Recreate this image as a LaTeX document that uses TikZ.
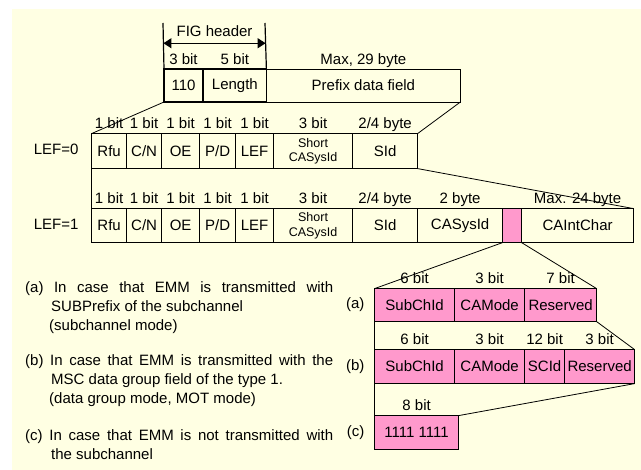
\documentclass[tikz,border=0pt]{standalone}
\usepackage{fontspec}
\setmainfont{Liberation Sans}
\usepackage{tikz}
\usepackage{xcolor}
\usetikzlibrary{matrix,
	calc,
	positioning,
	arrows.meta}
\definecolor{bgyel}{RGB}{255,255,227}
\definecolor{emmpink}{RGB}{255,153,204}
\tikzstyle{rw}=[inner sep=0pt, anchor=north west, column sep=-0.8pt,
		ampersand replacement=\&]
\tikzstyle{fld}=[draw, line width=0.8pt, inner sep=0pt, outer sep=0pt, anchor=center,
		align=center, font=\fontsize{15}{16}\selectfont]
\tikzstyle{hdf}=[fld, line width=1.6pt]
\tikzstyle{pk}=[fld, fill=emmpink]
\tikzstyle{sml}=[font=\fontsize{12.5}{14.5}\selectfont]
\tikzstyle{bits}=[inner sep=0pt, text height=10.5pt, text depth=3pt,
		font=\fontsize{15}{16}\selectfont]
\tikzstyle{note}=[inner sep=0pt, anchor=north west, align=left,
		font=\fontsize{15}{19}\selectfont]
\tikzstyle{lnk}=[line width=0.8pt]
\tikzstyle{tip}=[line width=1.2pt]

\begin{document}
\begin{tikzpicture}[x=1pt, y=-1pt]
                \useasboundingbox (0,0) rectangle (641,470);
                \fill[bgyel] (12,9) rectangle (641,470);
                % FIG header + prefix
                \matrix (hdr) [rw, column sep=-1.2pt, nodes={minimum height=33pt}] at (163,68) {
                    \node[hdf, minimum width=39pt] (c110) {110}; \& \node[hdf, minimum width=63pt] (cLen) {Length}; \& \node[fld, minimum width=194pt] (cPre) {Prefix data field}; \\
                };
                \coordinate (figL) at (163,23);
                \coordinate (figR) at (265,23);
                \draw[tip] (figL) -- (c110.north west);
                \draw[tip] (figR) -- (cLen.north east);
                \draw[tip, {Triangle[length=8pt,width=10pt]}-{Triangle[length=8pt,width=10pt]}] ($(figL)!0.44!(c110.north west)$) -- node[bits, above=3pt] (figTxt) {FIG header} ($(figR)!0.44!(cLen.north east)$);
                \node[bits, above=1pt of c110] (b110) {3 bit};
                \node[bits, above=1pt of cLen] (bLen) {5 bit};
                \node[bits, above=1pt of cPre] (bPre) {Max, 29 byte};
                % LEF=0
                \matrix (row0) [rw, nodes={minimum height=35pt}] at (91,133) {
                    \node[fld, minimum width=35pt] (rfu0) {Rfu}; \& \node[fld, minimum width=35pt] (cn0) {C/N}; \& \node[fld, minimum width=38pt] (oe0) {OE}; \& \node[fld, minimum width=36pt] (pd0) {P/D}; \& \node[fld, minimum width=38pt] (lef0) {LEF}; \& \node[fld, sml, minimum width=79pt] (sca0) {Short\\CASysId}; \& \node[fld, minimum width=65pt] (sid0) {SId}; \\
                };
                \node[bits, left=13pt of rfu0] (nm0) {LEF=0};
                \node[bits, above=1.5pt of rfu0] (brfu0) {1 bit};
                \node[bits, above=1.5pt of cn0] (bcn0) {1 bit};
                \node[bits, above=1.5pt of oe0] (boe0) {1 bit};
                \node[bits, above=1.5pt of pd0] (bpd0) {1 bit};
                \node[bits, above=1.5pt of lef0] (blef0) {1 bit};
                \node[bits, above=1.5pt of sca0] (bsca0) {3 bit};
                \node[bits, above=1.5pt of sid0] (bsid0) {2/4 byte};
                % LEF=1
                \matrix (row1) [rw, nodes={minimum height=34pt}] at (91,208) {
                    \node[fld, minimum width=35pt] (rfu1) {Rfu}; \& \node[fld, minimum width=35pt] (cn1) {C/N}; \& \node[fld, minimum width=38pt] (oe1) {OE}; \& \node[fld, minimum width=36pt] (pd1) {P/D}; \& \node[fld, minimum width=38pt] (lef1) {LEF}; \& \node[fld, sml, minimum width=79pt] (sca1) {Short\\CASysId}; \& \node[fld, minimum width=65pt] (sid1) {SId}; \& \node[fld, minimum width=85pt] (cas1) {CASysId}; \& \node[pk, minimum width=19pt] (pk1) {}; \& \node[fld, minimum width=112pt] (cai1) {CAIntChar}; \\
                };
                \node[bits, left=13pt of rfu1] (nm1) {LEF=1};
                \node[bits, above=1.5pt of rfu1] (brfu1) {1 bit};
                \node[bits, above=1.5pt of cn1] (bcn1) {1 bit};
                \node[bits, above=1.5pt of oe1] (boe1) {1 bit};
                \node[bits, above=1.5pt of pd1] (bpd1) {1 bit};
                \node[bits, above=1.5pt of lef1] (blef1) {1 bit};
                \node[bits, above=1.5pt of sca1] (bsca1) {3 bit};
                \node[bits, above=1.5pt of sid1] (bsid1) {2/4 byte};
                \node[bits, above=1.5pt of cas1] (bcas1) {2 byte};
                \node[bits, above=1.5pt of cai1] (bcai1) {Max. 24 byte};
                % (a) subchannel mode
                \matrix (rowa) [rw, nodes={minimum height=33pt}] at (374,288) {
                    \node[pk, minimum width=80pt] (suba) {SubChId}; \& \node[pk, minimum width=70pt] (cama) {CAMode}; \& \node[pk, minimum width=72pt] (resa) {Reserved}; \\
                };
                \node[bits, left=10pt of suba] (nma) {(a)};
                \node[bits, above=1.5pt of suba] (bsuba) {6 bit};
                \node[bits, above=1.5pt of cama] (bcama) {3 bit};
                \node[bits, above=1.5pt of resa] (bresa) {7 bit};
                % (b) data group mode
                \matrix (rowb) [rw, nodes={minimum height=34pt}] at (374,349) {
                    \node[pk, minimum width=80pt] (subb) {SubChId}; \& \node[pk, minimum width=70pt] (camb) {CAMode}; \& \node[pk, minimum width=40pt] (scidb) {SCId}; \& \node[pk, minimum width=70pt] (resb) {Reserved}; \\
                };
                \node[bits, left=10pt of subb] (nmb) {(b)};
                \node[bits, above=1.5pt of subb] (bsubb) {6 bit};
                \node[bits, above=1.5pt of camb] (bcamb) {3 bit};
                \node[bits, above=1.5pt of scidb] (bscidb) {12 bit};
                \node[bits, above=1.5pt of resb] (bresb) {3 bit};
                % (c) not with subchannel
                \matrix (rowc) [rw, nodes={minimum height=34pt}] at (374,415) {
                    \node[pk, minimum width=84pt] (ffc) {1111 1111}; \\
                };
                \node[bits, left=10pt of ffc] (nmc) {(c)};
                \node[bits, above=1.5pt of ffc] (bffc) {8 bit};
                % expansion lines
                \draw[lnk] (c110.south west) -- (rfu0.north west);
                \draw[lnk] (cPre.south east) -- (sid0.north east);
                \draw[lnk] (rfu0.south west) -- (rfu1.north west);
                \draw[lnk] (sid0.south east) -- (cai1.north east);
                \draw[lnk] (pk1.south west) -- (suba.north west);
                \draw[lnk] (pk1.south east) -- (resa.north east);
                \draw[lnk] (suba.south west) -- (subb.north west);
                \draw[lnk] (resa.south east) -- (resb.north east);
                \draw[lnk] (subb.south west) -- (ffc.north west);
                \draw[lnk] (resb.south east) -- (ffc.north east);
                % notes
                \node[note] (noteA) at (25,281) {\makebox[308pt][s]{(a) In case that EMM is transmitted with}\\\hspace*{26pt}SUBPrefix of the subchannel\\\hspace*{24pt}(subchannel mode)};
                \node[note] (noteB) at (25,354) {\makebox[308pt][s]{(b) In case that EMM is transmitted with the}\\\hspace*{26pt}MSC data group field of the type 1.\\\hspace*{24pt}(data group mode, MOT mode)};
                \node[note] (noteC) at (25,429) {\makebox[308pt][s]{(c) In case that EMM is not transmitted with}\\\hspace*{26pt}the subchannel};
            \end{tikzpicture}
\end{document}
